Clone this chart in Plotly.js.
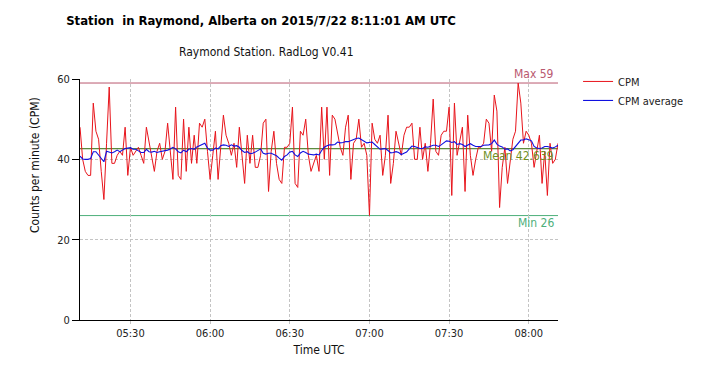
<!DOCTYPE html>
<html>
<head>
<meta charset="utf-8">
<script src="https://cdn.plot.ly/plotly-3.0.1.min.js"></script>
<style>html,body{margin:0;padding:0;background:#fff;}#chart{width:726px;height:372px;}</style>
</head>
<body>
<div id="chart"></div>
<script>
// ---- data ----
const startTime = "2015-07-22 05:11:01";   // first sample, one sample per minute
const cpm = [
 48,40,37,36,36,54,47,45,37,30,44,58,39,39,41,42,41,48,36,43,41,42,43,41,39,48,44,40,37,42,44,40,42,49,42,35,53,36,35,50,37,48,39,46,39,49,
 48,50,42,35,41,47,35,44,51,46,44,41,44,38,48,41,34,46,39,46,38,38,41,49,50,32,42,47,39,35,34,43,43,44,53,34,33,47,46,50,41,37,39,41,
 37,53,40,53,36,51,50,46,43,41,48,51,35,44,45,50,43,44,41,26,49,45,44,46,36,41,51,34,39,47,44,41,46,48,48,49,40,40,48,40,44,37,44,55,42,41,
 46,47,47,53,31,54,41,45,48,32,51,41,36,40,43,43,44,50,49,42,56,52,28,38,43,34,39,45,47,59,54,44,47,46,44,38,42,46,34,42,31,44,39,40,44
];
const cpmAvg = [
 40.8,40.1,40.0,40.0,40.2,41.9,41.9,41.1,40.2,39.4,42.0,41.8,41.6,41.9,42.3,41.9,42.4,42.7,42.8,42.9,42.5,42.5,42.1,41.7,41.7,42.5,41.9,41.8,42.0,41.7,41.9,42.0,42.2,42.3,42.6,43.0,42.6,41.9,41.6,42.3,41.9,42.5,42.7,42.5,43.1,43.4,
 43.5,44.0,42.8,42.3,42.3,42.8,42.6,43.4,43.6,43.5,43.2,43.6,43.3,43.4,43.0,42.2,41.7,41.9,41.4,41.5,41.8,42.3,42.6,41.5,41.3,41.5,41.5,41.2,40.9,40.3,39.8,40.7,41.1,41.8,42.0,41.1,40.7,41.6,42.0,41.7,41.3,41.2,41.1,41.3,
 41.1,42.2,43.0,43.4,43.6,43.6,43.7,44.3,44.1,44.2,44.4,44.4,44.7,45.0,45.2,45.3,44.8,44.5,44.1,44.2,44.3,43.7,43.2,42.5,42.6,42.7,42.2,41.6,41.7,41.9,41.7,41.2,41.5,41.8,42.6,43.3,43.2,43.0,42.7,42.7,43.1,43.0,43.2,43.5,43.5,43.2,
 43.6,44.2,44.6,44.5,44.2,44.4,43.7,43.9,43.7,43.2,43.6,43.9,43.5,43.2,43.2,43.2,43.5,43.6,43.6,43.9,44.8,43.8,43.3,43.1,42.5,42.6,42.1,42.4,43.2,44.2,44.8,44.8,45.1,44.9,44.6,43.2,42.8,42.7,42.8,43.2,43.2,43.0,42.8,43.1,43.5
];
const statNames  = ["Max", "Mean", "Min"];
const statValues = [59, 42.639, 26];
const seriesNames = ["CPM", "CPM average"];

// ---- time stamps (one per minute from the start) ----
function pad(n){return (n<10?"0":"")+n;}
const datePart = startTime.slice(0,10);
const t0 = startTime.slice(11).split(":").map(Number);
const t0s = t0[0]*3600 + t0[1]*60 + t0[2];
const times = cpm.map((_, i) => {
  const s = t0s + i*60;
  return datePart + " " + pad(Math.floor(s/3600)) + ":" + pad(Math.floor(s%3600/60)) + ":" + pad(s%60);
});

const FONT = "DejaVu Sans Condensed, DejaVu Sans, sans-serif";
const statColors = ["#b9586f", "#2f6b0a", "#4daf7a"];
const statLabelColors = ["#b9586f", "#6f8f1f", "#4daf7a"];
const statAnchors = ["bottom", "top", "top"];

const traces = [
  {x: times, y: cpm, name: seriesNames[0], type: "scatter", mode: "lines",
   line: {color: "#e8141b", width: 1}},
  {x: times, y: cpmAvg, name: seriesNames[1], type: "scatter", mode: "lines",
   line: {color: "#1010e0", width: 1.1}}
];

const shapes = statValues.map((v, i) => ({
  type: "line", xref: "paper", x0: 0, x1: 1, yref: "y", y0: v, y1: v,
  line: {color: statColors[i], width: 1}, layer: "below"
}));

const statText = statValues.map((v, i) => statNames[i] + " " + v);
const annotations = statValues.map((v, i) => ({
  xref: "paper", x: 0.996, xanchor: "right", yref: "y", y: v,
  yanchor: statAnchors[i], yshift: statAnchors[i] === "top" ? 2 : 0,
  text: statText[i], showarrow: false,
  font: {family: FONT, size: 12, color: statLabelColors[i]}
}));
annotations.push({
  xref: "paper", x: 0.391, xanchor: "center", yref: "paper", y: 1.112, yanchor: "middle",
  text: "Raymond Station. RadLog V0.41", showarrow: false,
  font: {family: FONT, size: 12, color: "#111"}
});
annotations.push({
  xref: "paper", x: -0.094, xanchor: "center", yref: "paper", y: 0.643, yanchor: "middle",
  text: "Counts per minute (CPM)", textangle: -90, showarrow: false,
  font: {family: FONT, size: 12, color: "#111"}
});

const layout = {
  width: 726, height: 372,
  margin: {l: 80, r: 168, t: 79, b: 52},
  paper_bgcolor: "#fff", plot_bgcolor: "#fff",
  font: {family: FONT, size: 11, color: "#222"},
  title: {
    text: "Station \u00a0in Raymond, Alberta on 2015/7/22 8:11:01 AM UTC",
    xref: "container", x: 0.3595, xanchor: "center",
    yref: "container", y: 0.944, yanchor: "middle",
    font: {family: FONT, size: 13, weight: "bold", color: "#000"}
  },
  xaxis: {
    type: "date", range: [times[0], times[times.length-1]],
    tickformat: "%H:%M", dtick: 30*60*1000, tick0: "2015-07-22 05:30:00",
    showgrid: true, gridcolor: "#c4c4c4", griddash: "3px,2px", gridwidth: 1,
    showline: true, linecolor: "#000", linewidth: 1,
    ticks: "outside", ticklen: 3, tickcolor: "#c4c4c4",
    zeroline: false, tickfont: {family: FONT, size: 11, color: "#222"},
    title: {text: "Time UTC", font: {family: FONT, size: 12, color: "#111"}, standoff: 6}
  },
  yaxis: {
    range: [0, 60], dtick: 20, tick0: 0,
    showgrid: true, gridcolor: "#c4c4c4", griddash: "3px,2px", gridwidth: 1,
    showline: true, linecolor: "#000", linewidth: 1,
    ticks: "outside", ticklen: 7, tickcolor: "#000",
    zeroline: false, tickfont: {family: FONT, size: 11, color: "#222"}
  },
  showlegend: true,
  legend: {
    x: 1.042, xanchor: "left", y: 1.05, yanchor: "top",
    bgcolor: "rgba(0,0,0,0)", font: {family: FONT, size: 11, color: "#222"},
    itemwidth: 30, tracegroupgap: 0
  },
  shapes: shapes,
  annotations: annotations
};

Plotly.newPlot("chart", traces, layout, {displayModeBar: false, staticPlot: true});
</script>
</body>
</html>
